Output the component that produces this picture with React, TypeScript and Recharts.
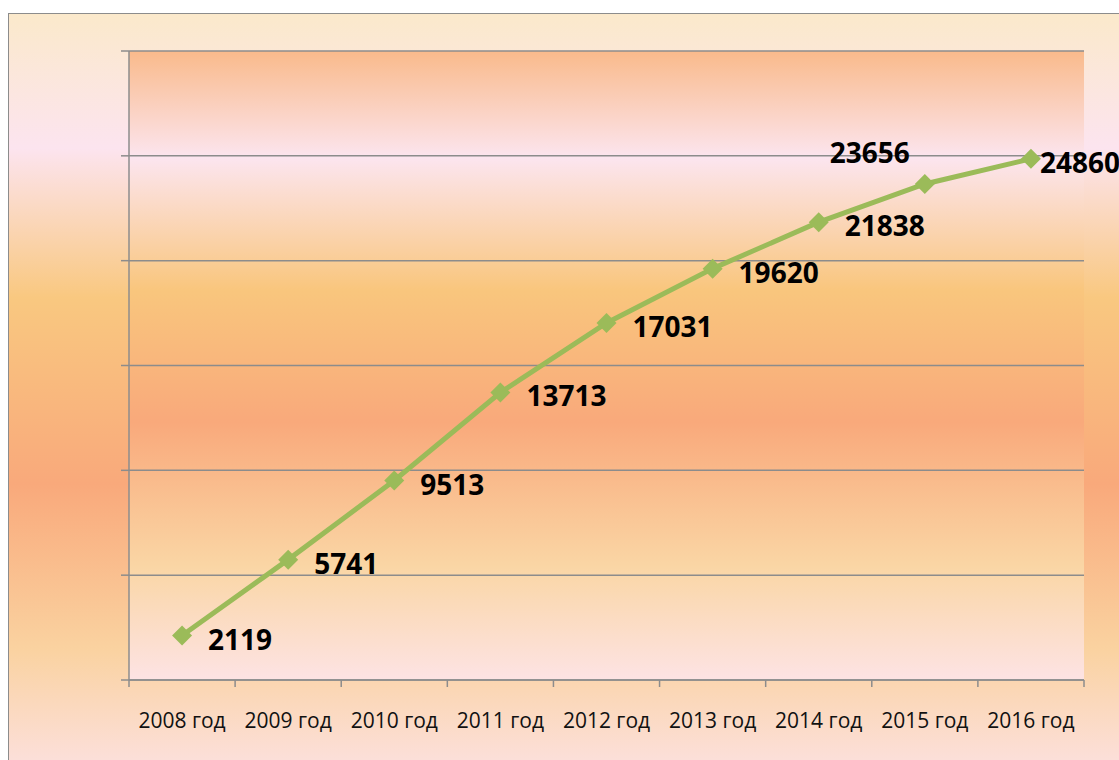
import React from "react";
import {
  LineChart,
  Line,
  XAxis,
  YAxis,
  CartesianGrid,
  LabelList,
} from "recharts";

// values
const years = [
  "2008 год",
  "2009 год",
  "2010 год",
  "2011 год",
  "2012 год",
  "2013 год",
  "2014 год",
  "2015 год",
  "2016 год",
];
const residents = [2119, 5741, 9513, 13713, 17031, 19620, 21838, 23656, 24860];
const yTicks = [0, 5000, 10000, 15000, 20000, 25000, 30000];
// whole numbers = category boundaries (tick marks), halves = category centres (labels)
const xTicks = [0, ...years.flatMap((_, i) => [i + 0.5, i + 1])];

const DATA = years.map((year, i) => ({ year, value: residents[i], pos: i + 0.5 }));

const GRID = "#8c8c8c";
const GREEN = "#9bbb59";

const Diamond = (props: any) => {
  const { cx, cy } = props;
  if (cx == null || cy == null) return null;
  const r = 10;
  return (
    <polygon
      points={`${cx},${cy - r} ${cx + r},${cy} ${cx},${cy + r} ${cx - r},${cy}`}
      fill={GREEN}
    />
  );
};

const ValueLabel = (props: any) => {
  const { x, y, value, index } = props;
  let dx = 26;
  let dy = 3;
  let anchor: "start" | "middle" = "start";
  if (index === 7) {
    // 23656 sits above and to the left of its point
    dx = -55;
    dy = -32;
    anchor = "middle";
  } else if (index === 8) {
    dx = 9;
  }
  return (
    <text
      x={x + dx}
      y={y + dy}
      textAnchor={anchor}
      dominantBaseline="central"
      fontFamily="'Open Sans', sans-serif"
      fontWeight={700}
      fontSize={28}
      fill="#000"
    >
      {value}
    </text>
  );
};

// Excel style: marks between categories, names centred in each category
const XTick = (props: any) => {
  const { x, y, payload } = props;
  const v = payload.value as number;
  if (Number.isInteger(v)) {
    return <line x1={x} y1={y} x2={x} y2={y + 7} stroke={GRID} strokeWidth={1.5} />;
  }
  return (
    <text
      x={x}
      y={y + 40}
      textAnchor="middle"
      dominantBaseline="central"
      fontFamily="'Open Sans', sans-serif"
      fontSize={21}
      fill="#111"
    >
      {years[Math.floor(v)]}
    </text>
  );
};

const emptyTick = () => <g />;

export default function App() {
  return (
    <div
      style={{
        position: "fixed",
        left: 8,
        top: 13,
        width: 1110,
        height: 746,
        borderLeft: `1px solid ${GRID}`,
        borderTop: `1px solid ${GRID}`,
        background:
          "linear-gradient(180deg, #fbe9cb 0%, #fce4ef 18%, #f9c880 38%, #f9a97b 63%, #fad2a0 85%, #fcdfd9 100%)",
      }}
    >
      <LineChart
        width={1110}
        height={746}
        data={DATA}
        margin={{ top: 37, right: 35, bottom: 30, left: 0 }}
      >
        <defs>
          <linearGradient id="plotBg" x1="0" y1="0" x2="0" y2="1">
            <stop offset="0%" stopColor="#f9ba8b" />
            <stop offset="17%" stopColor="#fce5ef" />
            <stop offset="38%" stopColor="#f9c67d" />
            <stop offset="59%" stopColor="#f9a97b" />
            <stop offset="82%" stopColor="#fad6a5" />
            <stop offset="100%" stopColor="#fde3e4" />
          </linearGradient>
        </defs>
        <CartesianGrid
          vertical={false}
          stroke={GRID}
          strokeWidth={1.5}
          fill="url(#plotBg)"
          fillOpacity={1}
        />
        <XAxis
          dataKey="pos"
          type="number"
          domain={[0, years.length]}
          allowDataOverflow
          ticks={xTicks}
          interval={0}
          tick={<XTick />}
          tickLine={false}
          tickSize={0}
          tickMargin={0}
          height={50}
          stroke={GRID}
          strokeWidth={1.5}
        />
        <YAxis
          domain={[0, 30000]}
          ticks={yTicks}
          width={120}
          tick={emptyTick}
          tickSize={8}
          stroke={GRID}
          strokeWidth={1.5}
        />
        <Line
          dataKey="value"
          stroke={GREEN}
          strokeWidth={5}
          dot={<Diamond />}
          activeDot={false}
          isAnimationActive={false}
        >
          <LabelList dataKey="value" content={<ValueLabel />} />
        </Line>
      </LineChart>
    </div>
  );
}
